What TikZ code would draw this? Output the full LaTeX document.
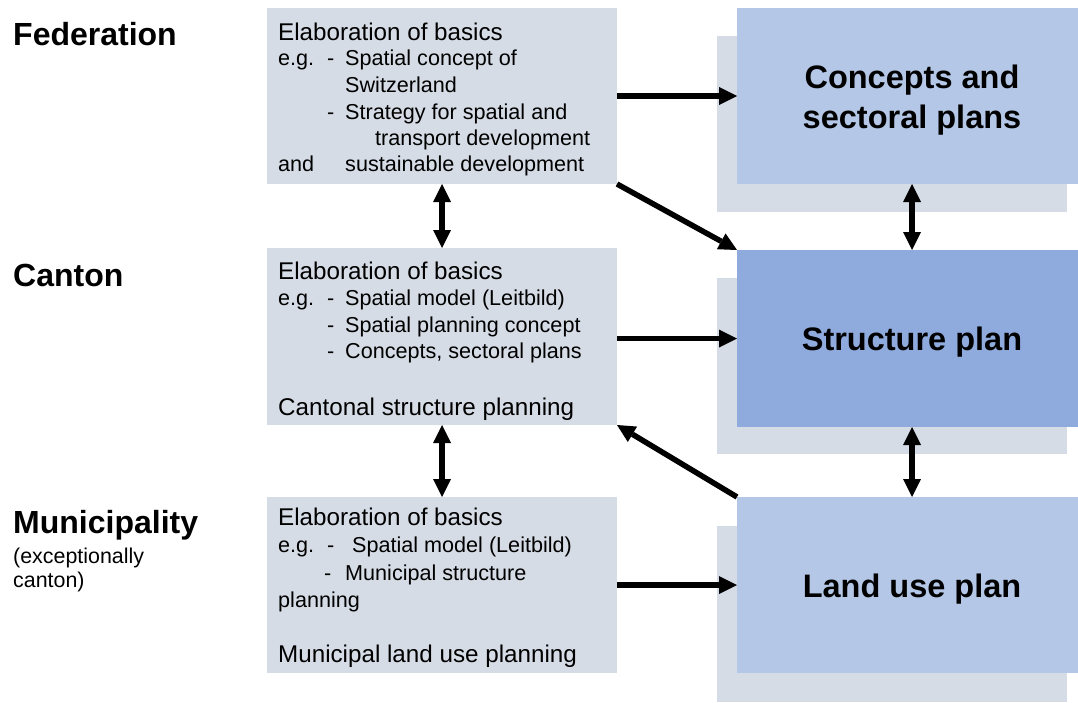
\documentclass[tikz,border=0pt]{standalone}
\usepackage{fontspec}
\setmainfont{Liberation Sans}
\usetikzlibrary{arrows.meta}
\definecolor{basis}{HTML}{D6DCE5}
\definecolor{planlight}{HTML}{B4C7E7}
\definecolor{plandark}{HTML}{8FAADC}
\tikzset{
  panel/.style={fill=basis, draw=none, anchor=north west, inner sep=0pt, outer sep=0pt,
    minimum width=350pt, minimum height=#1},
  panel/.default=176pt,
  planbox/.style={fill=#1, draw=none, anchor=north west, inner sep=0pt, outer sep=0pt,
    minimum width=341pt, minimum height=177pt},
  backing/.style={fill=basis, draw=none, anchor=north west, inner sep=0pt, outer sep=0pt,
    minimum width=350pt, minimum height=176pt},
  level/.style={anchor=base west, inner sep=0pt, font=\fontsize{32}{38}\selectfont\bfseries},
  note/.style={anchor=base west, inner sep=0pt, font=\fontsize{21.4}{24}\selectfont},
  headline/.style={anchor=base west, inner sep=0pt, font=\fontsize{24.2}{28}\selectfont},
  item/.style={anchor=base west, inner sep=0pt, font=\fontsize{21.6}{26}\selectfont},
  plantext/.style={anchor=base, inner sep=0pt, font=\fontsize{32.5}{38}\selectfont\bfseries},
  tip/.style={Triangle[length=18pt,width=18pt,line width=0pt]},
  arr/.style={line width=5.5pt, -{Triangle[length=18pt,width=18pt,line width=0pt]}},
  darr/.style={line width=5.5pt, {Triangle[length=18pt,width=18pt,line width=0pt]}-{Triangle[length=18pt,width=18pt,line width=0pt]}}
}
\begin{document}
\begin{tikzpicture}[x=1pt, y=-1pt]
\useasboundingbox (0,0) rectangle (1078,702);

% level labels
\node[level] (lfed) at (13,45) {Federation};
\node[level] (lcan) at (13,286) {Canton};
\node[level] (lmun) at (13,533) {Municipality};
\node[note] (lmun1) at (13,563) {(exceptionally};
\node[note] (lmun2) at (13,587) {canton)};

% basics panels
\node[panel] (fed) at (267,8) {};
\node[panel=177pt] (can) at (267,248) {};
\node[panel] (mun) at (267,497) {};

% federation panel text
\node[headline] (f0) at (278,40) {Elaboration of basics};
\node[item] (f1a) at (278,65) {e.g.};
\node[item] (f1b) at (327,65) {-};
\node[item] (f1c) at (345,65) {Spatial concept of};
\node[item] (f2) at (345,92) {Switzerland};
\node[item] (f3b) at (327,119) {-};
\node[item] (f3c) at (345,119) {Strategy for spatial and};
\node[item] (f4) at (375,145) {transport development};
\node[item] (f5a) at (278,171) {and};
\node[item] (f5c) at (345,171) {sustainable development};

% canton panel text
\node[headline] (c0) at (278,279) {Elaboration of basics};
\node[item] (c1a) at (278,305) {e.g.};
\node[item] (c1b) at (327,305) {-};
\node[item] (c1c) at (345,305) {Spatial model (Leitbild)};
\node[item] (c2b) at (327,332) {-};
\node[item] (c2c) at (345,332) {Spatial planning concept};
\node[item] (c3b) at (327,358) {-};
\node[item] (c3c) at (345,358) {Concepts, sectoral plans};
\node[headline] (c4) at (278,415) {Cantonal structure planning};

% municipality panel text
\node[headline] (m0) at (278,525) {Elaboration of basics};
\node[item] (m1a) at (278,552) {e.g.};
\node[item] (m1b) at (327,552) {-};
\node[item] (m1c) at (352,552) {Spatial model (Leitbild)};
\node[item] (m2b) at (324,580) {-};
\node[item] (m2c) at (345,580) {Municipal structure};
\node[item] (m3) at (278,607) {planning};
\node[headline] (m4) at (278,662) {Municipal land use planning};

% plan boxes with their backing sheets
\node[backing] (concB) at (717,36) {};
\node[planbox=planlight, minimum height=176pt] (conc) at (737,8) {};
\node[backing] (strB) at (717,278) {};
\node[planbox=plandark] (str) at (737,250) {};
\node[backing] (landB) at (717,526) {};
\node[planbox=planlight, minimum height=176pt] (land) at (737,497) {};

\node[plantext] (t1) at (912,88) {Concepts and};
\node[plantext] (t2) at (912,128) {sectoral plans};
\node[plantext] (t3) at (912,350) {Structure plan};
\node[plantext] (t4) at (912,597) {Land use plan};

% connectors
\draw[arr] (fed.east |- conc.west) -- (conc.west);
\draw[arr] (fed.south east) -- (str.north west);
\draw[arr] (can.east |- str.west) -- (str.west);
\draw[arr] (land.north west) -- (can.south east);
\draw[arr] (mun.east |- land.west) -- (land.west);
\draw[darr] (fed.south) -- (can.north);
\draw[darr] (can.south) -- (mun.north);
\draw[darr] ([xshift=4.5pt]conc.south) -- ([xshift=4.5pt]str.north);
\draw[darr] ([xshift=4.5pt]str.south) -- ([xshift=4.5pt]land.north);
\end{tikzpicture}
\end{document}
